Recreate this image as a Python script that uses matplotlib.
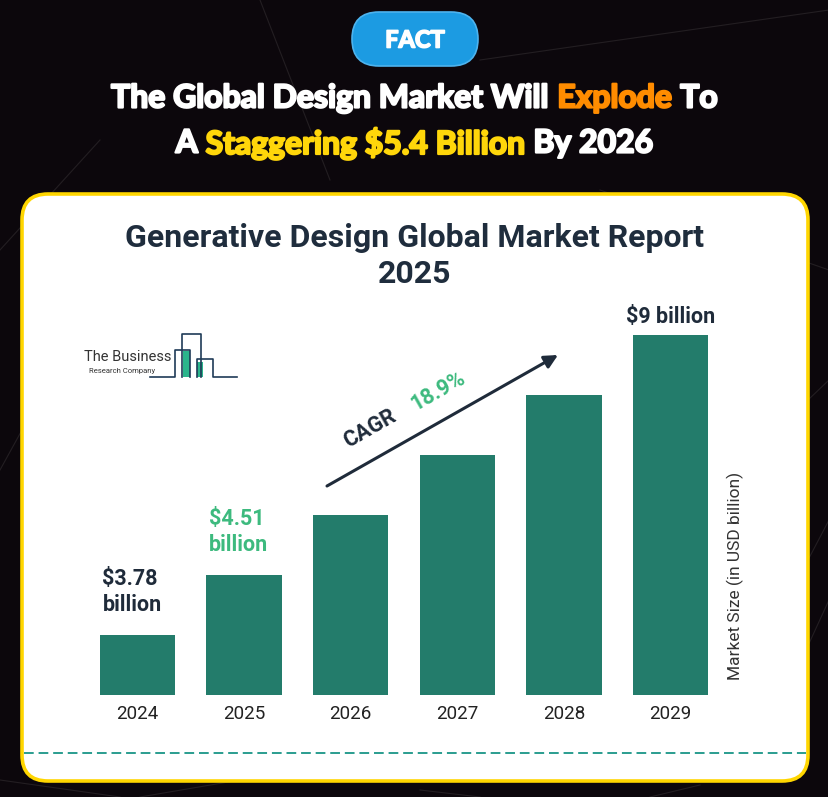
import matplotlib
matplotlib.use("Agg")
import matplotlib.pyplot as plt
from matplotlib.patches import FancyBboxPatch, Rectangle
from matplotlib.lines import Line2D
import matplotlib.patheffects as pe

# ---------------- data ----------------
years = ["2024", "2025", "2026", "2027", "2028", "2029"]
bar_heights = [1.0, 2.0, 3.0, 4.0, 5.0, 6.0]   # relative drawn heights
value_labels = ["$3.78\nbillion", "$4.51\nbillion", "", "", "", "$9 billion"]
label_colors = ["#1f2b3a", "#3dba7e", "#1f2b3a", "#1f2b3a", "#1f2b3a", "#1f2b3a"]
cagr_text = "CAGR"
cagr_value = "18.9%"
chart_title = "Generative Design Global Market Report\n2025"
y_axis_label = "Market Size (in USD billion)"
header_line1 = [("The Global Design Market Will ", "#ffffff"), ("Explode", "#ff8c00"), (" To", "#ffffff")]
header_line2 = [("A ", "#ffffff"), ("Staggering $5.4 Billion", "#ffd60a"), (" By 2026", "#ffffff")]
pill_text = "FACT"

W, H = 829, 797
fig = plt.figure(figsize=(W / 100, H / 100), dpi=100)
fig.patch.set_facecolor("#0c070c")

bg = fig.add_axes([0, 0, 1, 1])
bg.set_xlim(0, W)
bg.set_ylim(H, 0)
bg.axis("off")
bg.set_facecolor("none")

# faint network lines in background
net = [((0, 250), (100, 140)), ((260, 0), (330, 180)), ((480, 60), (829, 10)),
       ((600, 190), (829, 270)), ((0, 780), (120, 797)), ((140, 797), (240, 780)),
       ((420, 790), (480, 797)), ((760, 750), (829, 600)), ((650, 797), (700, 785)),
       ((808, 400), (829, 380)), ((808, 560), (829, 520)), ((0, 470), (22, 430))]
for (x0, y0), (x1, y1) in net:
    bg.add_line(Line2D([x0, x1], [y0, y1], color="#231e22", lw=0.8, zorder=0))

# FACT pill
pill = FancyBboxPatch((352, 12), 126, 54, boxstyle="round,pad=0,rounding_size=27",
                      facecolor="#1c9be2", edgecolor="#4db3ee", lw=1.2, zorder=2)
bg.add_patch(pill)
bg.text(415, 40, pill_text, color="white", fontsize=17, fontweight="bold",
        family="Lato", ha="center", va="center", zorder=3,
        path_effects=[pe.withStroke(linewidth=1.2, foreground="white")])

renderer = fig.canvas.get_renderer()


def rich_line(y, parts, size):
    texts = []
    for s, c in parts:
        t = bg.text(0, y, s, color=c, fontsize=size, fontweight="bold", family="Lato",
                    ha="left", va="center", zorder=3,
                    path_effects=[pe.withStroke(linewidth=1.6, foreground=c)])
        texts.append(t)
    widths = [t.get_window_extent(renderer).width for t in texts]
    total = sum(widths)
    x = W / 2 - total / 2
    for t, w in zip(texts, widths):
        t.set_x(x)
        x += w


rich_line(98, header_line1, 23)
rich_line(143, header_line2, 23)

# white panel with yellow border
panel = FancyBboxPatch((22, 194), 786, 587, boxstyle="round,pad=0,rounding_size=26",
                       facecolor="white", edgecolor="#ffd600", lw=2.6, zorder=1)
bg.add_patch(panel)

# chart title
bg.text(415, 256, chart_title, color="#1f2d3d", fontsize=23, fontweight="bold",
        family="Roboto", ha="center", va="center", linespacing=1.25, zorder=3)

# logo
bg.text(84, 357, "The Business", color="#333333", fontsize=10.5, family="Roboto",
        ha="left", va="center", zorder=3)
bg.text(89, 371, "Research Company", color="#333333", fontsize=5.5, family="Roboto",
        ha="left", va="center", zorder=3)
navy = "#1f3b57"
green = "#2bb58c"
bg.add_patch(Rectangle((183, 351), 7, 26, facecolor=green, edgecolor="none", zorder=3))
bg.add_patch(Rectangle((197, 362), 6, 15, facecolor=green, edgecolor="none", zorder=3))
logo_lines = [
    ([150, 175, 175, 190, 190], [377, 377, 350, 350, 377]),
    ([182, 182, 201, 201], [377, 334, 334, 377]),
    ([197, 197, 213, 213, 237], [377, 359, 359, 377, 377]),
]
for xs, ys in logo_lines:
    bg.add_line(Line2D(xs, ys, color=navy, lw=1.2, zorder=4))

# CAGR arrow
bg.annotate("", xy=(558, 355), xytext=(327, 486),
            arrowprops=dict(arrowstyle="-|>", color="#1f2b3a", lw=2.2, mutation_scale=20,
                            shrinkA=0, shrinkB=0), zorder=3)
bg.text(370, 429, cagr_text, color="#1f2b3a", fontsize=15.5, fontweight="bold",
        family="Roboto", rotation=29.6, rotation_mode="anchor", ha="center", va="center", zorder=3)
bg.text(438, 391, cagr_value, color="#3dba7e", fontsize=15.5, fontweight="bold",
        family="Roboto", rotation=29.6, rotation_mode="anchor", ha="center", va="center", zorder=3)

# y-axis label
bg.text(735, 576, y_axis_label, color="#333333", fontsize=12.5, family="Roboto",
        rotation=90, ha="center", va="center", zorder=3)

# dashed line
bg.add_line(Line2D([24, 806], [753, 753], color="#2a9d8f", lw=1.4, ls=(0, (5, 2.5)), zorder=3))

# ---------------- bar axes ----------------
ax_left, ax_right = 84, 724
ax_bottom, ax_top = 695, 323
ax = fig.add_axes([ax_left / W, (H - ax_bottom) / H, (ax_right - ax_left) / W, (ax_bottom - ax_top) / H])
ax.set_facecolor("none")
xs = list(range(len(years)))
ax.bar(xs, bar_heights, width=0.705, color="#237c6b", zorder=3)
ax.set_xlim(-0.5, len(years) - 0.5)
ax.set_ylim(0, 6.2)
for s in ax.spines.values():
    s.set_visible(False)
ax.set_yticks([])
ax.set_xticks(xs)
ax.set_xticklabels(years, fontsize=13.5, family="Roboto", color="#222222")
ax.tick_params(axis="x", length=0, pad=7)

for i, (lab, c) in enumerate(zip(value_labels, label_colors)):
    if not lab:
        continue
    multi = "\n" in lab
    gap = 19 if multi else 7
    ax.annotate(lab, xy=(i - 0.05 if multi else i, bar_heights[i]), xytext=(0, gap * 0.72),
                textcoords="offset points", ha="center", va="bottom", multialignment="left",
                fontsize=15.5, fontweight="bold", family="Roboto", color=c, linespacing=1.25,
                annotation_clip=False, zorder=4)

fig.savefig("out.png", dpi=100, facecolor=fig.get_facecolor())
